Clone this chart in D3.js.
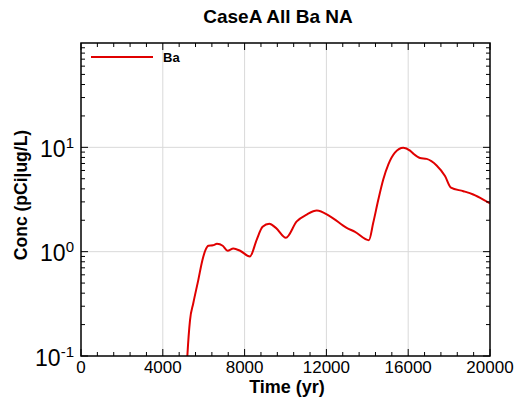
<!DOCTYPE html>
<html><head><meta charset="utf-8">
<script src="https://cdn.jsdelivr.net/npm/d3@7"></script>
<style>body{margin:0;background:#fff}svg{display:block}text{font-family:"Liberation Sans",Arial,sans-serif}</style>
</head><body><svg id="c" width="519" height="402"></svg>
<script>
const title = "CaseA All Ba NA";
const xLabel = "Time (yr)";
const yLabel = "Conc (pCi|ug/L)";
const seriesName = "Ba";
const xTicks = [0, 4000, 8000, 12000, 16000, 20000];
const yTicks = [0.1, 1, 10, 100];
const yTickExp = ["-1", "0", "1", "2"];
const times = [5100, 5200, 5330, 5490, 5740, 5930, 6100, 6230, 6450, 6650, 6930, 7170, 7450, 7780, 8260, 8590, 8880, 9210, 9530, 10020, 10550, 11040, 11530, 12180, 12990, 13400, 14080, 14290, 14540, 14780, 15030, 15350, 15760, 16090, 16250, 16580, 16900, 17390, 17800, 18090, 18700, 19180, 19670, 20000];
const conc = [0.04, 0.1, 0.22, 0.32, 0.54, 0.82, 1.05, 1.14, 1.15, 1.19, 1.14, 1.02, 1.07, 1.02, 0.90, 1.30, 1.73, 1.85, 1.69, 1.36, 1.95, 2.27, 2.48, 2.18, 1.69, 1.55, 1.29, 1.89, 3.16, 4.92, 6.87, 8.9, 9.93, 9.3, 8.7, 7.9, 7.75, 6.7, 5.3, 4.1, 3.8, 3.53, 3.16, 2.9];

const svg = d3.select("#c");
const L = 81, R = 490, T = 43, B = 356;
const x = d3.scaleLinear().domain([0, 20000]).range([L, R]);
const y = d3.scaleLog().domain([0.1, 100]).range([B, T]);

// grid
const g = svg.append("g");
xTicks.slice(1, -1).forEach(v => g.append("line").attr("x1", x(v)).attr("x2", x(v)).attr("y1", T).attr("y2", B).attr("stroke", "#d9d9d9").attr("stroke-width", 1));
[1, 10].forEach(v => g.append("line").attr("x1", L).attr("x2", R).attr("y1", y(v)).attr("y2", y(v)).attr("stroke", "#d9d9d9").attr("stroke-width", 1));

// clip
svg.append("clipPath").attr("id", "clip").append("rect").attr("x", L).attr("y", T).attr("width", R - L).attr("height", B - T);

const line = d3.line().x((d, i) => x(times[i])).y(d => y(d)).curve(d3.curveMonotoneX);
svg.append("path").attr("clip-path", "url(#clip)").attr("d", line(conc)).attr("fill", "none").attr("stroke", "#e00000").attr("stroke-width", 2);

// axes frame
svg.append("rect").attr("x", L).attr("y", T).attr("width", R - L).attr("height", B - T).attr("fill", "none").attr("stroke", "#000").attr("stroke-width", 1.5);

// x ticks
const minorX = d3.range(0, 20001, 800);
const ax = svg.append("g").attr("stroke", "#000").attr("stroke-width", 1);
minorX.forEach(v => {
  const major = v % 4000 === 0;
  const len = major ? 7 : 4;
  ax.append("line").attr("x1", x(v)).attr("x2", x(v)).attr("y1", B).attr("y2", B - len);
  ax.append("line").attr("x1", x(v)).attr("x2", x(v)).attr("y1", T).attr("y2", T + len);
});
// y ticks
for (let e = -1; e < 2; e++) {
  for (let m = 1; m <= 9; m++) {
    const v = m * Math.pow(10, e);
    const len = m === 1 ? 7 : 4;
    ax.append("line").attr("x1", L).attr("x2", L + len).attr("y1", y(v)).attr("y2", y(v));
    ax.append("line").attr("x1", R).attr("x2", R - len).attr("y1", y(v)).attr("y2", y(v));
  }
}

// x tick labels
xTicks.forEach(v => svg.append("text").attr("x", x(v)).attr("y", 373).attr("text-anchor", "middle").attr("font-size", 17).text(v));
// y tick labels
yTicks.slice(0, 3).forEach((v, i) => {
  const t = svg.append("text").attr("x", 74).attr("y", y(v) + 9.5).attr("text-anchor", "end").attr("font-size", 23);
  t.append("tspan").text("10");
  t.append("tspan").attr("font-size", 15).attr("dy", -9).text(yTickExp[i]);
});

svg.append("text").attr("x", 278).attr("y", 23).attr("text-anchor", "middle").attr("font-size", 19).attr("font-weight", "bold").text(title);
svg.append("text").attr("x", 287).attr("y", 393).attr("text-anchor", "middle").attr("font-size", 18).attr("font-weight", "bold").text(xLabel);
svg.append("text").attr("transform", "translate(27,195) rotate(-90)").attr("text-anchor", "middle").attr("font-size", 17.5).attr("font-weight", "bold").text(yLabel);

// legend
svg.append("line").attr("x1", 91).attr("x2", 153).attr("y1", 57).attr("y2", 57).attr("stroke", "#e00000").attr("stroke-width", 2);
svg.append("text").attr("x", 163).attr("y", 62).attr("font-size", 13).attr("font-weight", "bold").text(seriesName);
</script></body></html>
